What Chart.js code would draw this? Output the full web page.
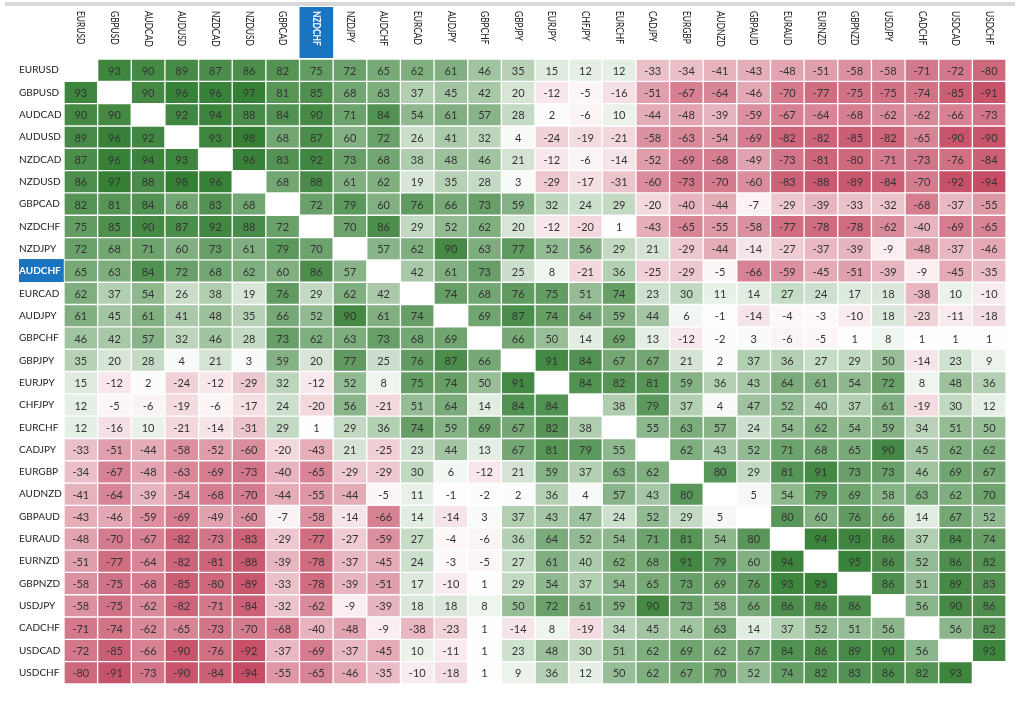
<!DOCTYPE html>
<html>
<head>
<meta charset="utf-8">
<title>Currency correlation matrix</title>
<script src="https://cdn.jsdelivr.net/npm/chart.js@4.4.1/dist/chart.umd.min.js"></script>
<style>
  html, body { margin: 0; padding: 0; background: #fff; }
  #wrap { width: 1024px; height: 712px; }
</style>
</head>
<body>
<div id="wrap"><canvas id="corrChart"></canvas></div>
<script>
// pairs, in the order of both rows and columns
const pairs = ["EURUSD", "GBPUSD", "AUDCAD", "AUDUSD", "NZDCAD", "NZDUSD", "GBPCAD", "NZDCHF",
  "NZDJPY", "AUDCHF", "EURCAD", "AUDJPY", "GBPCHF", "GBPJPY", "EURJPY", "CHFJPY", "EURCHF",
  "CADJPY", "EURGBP", "AUDNZD", "GBPAUD", "EURAUD", "EURNZD", "GBPNZD", "USDJPY", "CADCHF",
  "USDCAD", "USDCHF"];

const highlightCol = "NZDCHF";
const highlightRow = "AUDCHF";

// correlation values (%) per row, null = diagonal
const rowEURUSD = [null, 93, 90, 89, 87, 86, 82, 75, 72, 65, 62, 61, 46, 35, 15, 12, 12, -33, -34, -41, -43, -48, -51, -58, -58, -71, -72, -80];
const rowGBPUSD = [93, null, 90, 96, 96, 97, 81, 85, 68, 63, 37, 45, 42, 20, -12, -5, -16, -51, -67, -64, -46, -70, -77, -75, -75, -74, -85, -91];
const rowAUDCAD = [90, 90, null, 92, 94, 88, 84, 90, 71, 84, 54, 61, 57, 28, 2, -6, 10, -44, -48, -39, -59, -67, -64, -68, -62, -62, -66, -73];
const rowAUDUSD = [89, 96, 92, null, 93, 98, 68, 87, 60, 72, 26, 41, 32, 4, -24, -19, -21, -58, -63, -54, -69, -82, -82, -85, -82, -65, -90, -90];
const rowNZDCAD = [87, 96, 94, 93, null, 96, 83, 92, 73, 68, 38, 48, 46, 21, -12, -6, -14, -52, -69, -68, -49, -73, -81, -80, -71, -73, -76, -84];
const rowNZDUSD = [86, 97, 88, 98, 96, null, 68, 88, 61, 62, 19, 35, 28, 3, -29, -17, -31, -60, -73, -70, -60, -83, -88, -89, -84, -70, -92, -94];
const rowGBPCAD = [82, 81, 84, 68, 83, 68, null, 72, 79, 60, 76, 66, 73, 59, 32, 24, 29, -20, -40, -44, -7, -29, -39, -33, -32, -68, -37, -55];
const rowNZDCHF = [75, 85, 90, 87, 92, 88, 72, null, 70, 86, 29, 52, 62, 20, -12, -20, 1, -43, -65, -55, -58, -77, -78, -78, -62, -40, -69, -65];
const rowNZDJPY = [72, 68, 71, 60, 73, 61, 79, 70, null, 57, 62, 90, 63, 77, 52, 56, 29, 21, -29, -44, -14, -27, -37, -39, -9, -48, -37, -46];
const rowAUDCHF = [65, 63, 84, 72, 68, 62, 60, 86, 57, null, 42, 61, 73, 25, 8, -21, 36, -25, -29, -5, -66, -59, -45, -51, -39, -9, -45, -35];
const rowEURCAD = [62, 37, 54, 26, 38, 19, 76, 29, 62, 42, null, 74, 68, 76, 75, 51, 74, 23, 30, 11, 14, 27, 24, 17, 18, -38, 10, -10];
const rowAUDJPY = [61, 45, 61, 41, 48, 35, 66, 52, 90, 61, 74, null, 69, 87, 74, 64, 59, 44, 6, -1, -14, -4, -3, -10, 18, -23, -11, -18];
const rowGBPCHF = [46, 42, 57, 32, 46, 28, 73, 62, 63, 73, 68, 69, null, 66, 50, 14, 69, 13, -12, -2, 3, -6, -5, 1, 8, 1, 1, 1];
const rowGBPJPY = [35, 20, 28, 4, 21, 3, 59, 20, 77, 25, 76, 87, 66, null, 91, 84, 67, 67, 21, 2, 37, 36, 27, 29, 50, -14, 23, 9];
const rowEURJPY = [15, -12, 2, -24, -12, -29, 32, -12, 52, 8, 75, 74, 50, 91, null, 84, 82, 81, 59, 36, 43, 64, 61, 54, 72, 8, 48, 36];
const rowCHFJPY = [12, -5, -6, -19, -6, -17, 24, -20, 56, -21, 51, 64, 14, 84, 84, null, 38, 79, 37, 4, 47, 52, 40, 37, 61, -19, 30, 12];
const rowEURCHF = [12, -16, 10, -21, -14, -31, 29, 1, 29, 36, 74, 59, 69, 67, 82, 38, null, 55, 63, 57, 24, 54, 62, 54, 59, 34, 51, 50];
const rowCADJPY = [-33, -51, -44, -58, -52, -60, -20, -43, 21, -25, 23, 44, 13, 67, 81, 79, 55, null, 62, 43, 52, 71, 68, 65, 90, 45, 62, 62];
const rowEURGBP = [-34, -67, -48, -63, -69, -73, -40, -65, -29, -29, 30, 6, -12, 21, 59, 37, 63, 62, null, 80, 29, 81, 91, 73, 73, 46, 69, 67];
const rowAUDNZD = [-41, -64, -39, -54, -68, -70, -44, -55, -44, -5, 11, -1, -2, 2, 36, 4, 57, 43, 80, null, 5, 54, 79, 69, 58, 63, 62, 70];
const rowGBPAUD = [-43, -46, -59, -69, -49, -60, -7, -58, -14, -66, 14, -14, 3, 37, 43, 47, 24, 52, 29, 5, null, 80, 60, 76, 66, 14, 67, 52];
const rowEURAUD = [-48, -70, -67, -82, -73, -83, -29, -77, -27, -59, 27, -4, -6, 36, 64, 52, 54, 71, 81, 54, 80, null, 94, 93, 86, 37, 84, 74];
const rowEURNZD = [-51, -77, -64, -82, -81, -88, -39, -78, -37, -45, 24, -3, -5, 27, 61, 40, 62, 68, 91, 79, 60, 94, null, 95, 86, 52, 86, 82];
const rowGBPNZD = [-58, -75, -68, -85, -80, -89, -33, -78, -39, -51, 17, -10, 1, 29, 54, 37, 54, 65, 73, 69, 76, 93, 95, null, 86, 51, 89, 83];
const rowUSDJPY = [-58, -75, -62, -82, -71, -84, -32, -62, -9, -39, 18, 18, 8, 50, 72, 61, 59, 90, 73, 58, 66, 86, 86, 86, null, 56, 90, 86];
const rowCADCHF = [-71, -74, -62, -65, -73, -70, -68, -40, -48, -9, -38, -23, 1, -14, 8, -19, 34, 45, 46, 63, 14, 37, 52, 51, 56, null, 56, 82];
const rowUSDCAD = [-72, -85, -66, -90, -76, -92, -37, -69, -37, -45, 10, -11, 1, 23, 48, 30, 51, 62, 69, 62, 67, 84, 86, 89, 90, 56, null, 93];
const rowUSDCHF = [-80, -91, -73, -90, -84, -94, -55, -65, -46, -35, -10, -18, 1, 9, 36, 12, 50, 62, 67, 70, 52, 74, 82, 83, 86, 82, 93, null];

const matrix = [rowEURUSD, rowGBPUSD, rowAUDCAD, rowAUDUSD, rowNZDCAD, rowNZDUSD, rowGBPCAD,
  rowNZDCHF, rowNZDJPY, rowAUDCHF, rowEURCAD, rowAUDJPY, rowGBPCHF, rowGBPJPY, rowEURJPY,
  rowCHFJPY, rowEURCHF, rowCADJPY, rowEURGBP, rowAUDNZD, rowGBPAUD, rowEURAUD, rowEURNZD,
  rowGBPNZD, rowUSDJPY, rowCADCHF, rowUSDCAD, rowUSDCHF];

const labelFont = "Lato, 'Open Sans', sans-serif";
const highlightBlue = "#1a74bf";

// white -> green for positive, white -> red for negative
function cellColor(v) {
  if (v === null) return "rgba(0,0,0,0)";
  const t = Math.min(Math.abs(v), 100) / 100;
  const end = v >= 0 ? [48, 124, 48] : [194, 66, 92];
  const mix = end.map(e => Math.round(255 + (e - 255) * t));
  return `rgb(${mix[0]}, ${mix[1]}, ${mix[2]})`;
}

const datasets = matrix.map((row, r) => ({
  label: pairs[r],
  data: row.map(v => (v === null ? null : [r, r + 1])),
  backgroundColor: row.map(cellColor),
  borderColor: "rgba(255,255,255,0.45)",
  borderWidth: 1,
  borderSkipped: false,
}));

// header labels (rotated clockwise) + value text in each cell
const matrixText = {
  id: "matrixText",
  beforeDraw(chart) {
    const ctx = chart.ctx;
    ctx.save();
    ctx.fillStyle = "#d9d9d9";
    ctx.fillRect(5, 2, chart.width - 14, 4);
    ctx.restore();
  },
  afterDatasetsDraw(chart) {
    const ctx = chart.ctx;
    const xScale = chart.scales.x;
    const colW = xScale.getPixelForValue(1) - xScale.getPixelForValue(0);

    ctx.save();
    ctx.font = "11px " + labelFont;
    ctx.textAlign = "center";
    ctx.textBaseline = "middle";
    ctx.fillStyle = "#333";
    chart.data.datasets.forEach((ds, r) => {
      const meta = chart.getDatasetMeta(r);
      meta.data.forEach((bar, c) => {
        const v = matrix[r][c];
        if (v === null) return;
        ctx.fillText(String(v), bar.x, (bar.y + bar.base) / 2 + 1);
      });
    });

    pairs.forEach((name, c) => {
      const x = xScale.getPixelForValue(c);
      const isHi = name === highlightCol;
      if (isHi) {
        ctx.fillStyle = highlightBlue;
        ctx.fillRect(x - colW / 2, 7, colW, 51);
      }
      ctx.save();
      ctx.translate(x, 11);
      ctx.rotate(Math.PI / 2);
      ctx.scale(0.8, 1);
      ctx.textAlign = "left";
      ctx.textBaseline = "middle";
      ctx.font = (isHi ? "bold " : "") + "10.5px " + labelFont;
      ctx.fillStyle = isHi ? "#fff" : "#222";
      ctx.fillText(name, 0, 0);
      ctx.restore();
    });
    ctx.restore();
  }
};

new Chart(document.getElementById("corrChart"), {
  type: "bar",
  data: { labels: pairs, datasets: datasets },
  options: {
    responsive: true,
    maintainAspectRatio: false,
    animation: false,
    layout: { padding: { top: 7, left: 19, right: 18, bottom: 28 } },
    datasets: { bar: { grouped: false, barPercentage: 1, categoryPercentage: 1 } },
    plugins: {
      legend: { display: false },
      tooltip: { enabled: false },
    },
    scales: {
      x: {
        position: "top",
        grid: { display: false },
        border: { display: false },
        ticks: { display: false },
        afterFit: s => { s.height = 52; },
      },
      y: {
        min: 0,
        max: 28,
        reverse: true,
        grid: { display: false },
        border: { display: false },
        afterBuildTicks: s => { s.ticks = pairs.map((_, i) => ({ value: i + 0.5 })); },
        afterFit: s => { s.width = 45; },
        ticks: {
          autoSkip: false,
          crossAlign: "far",
          padding: 0,
          callback: v => pairs[Math.floor(v)],
          font: ctx => ({ family: labelFont, size: 10, weight: pairs[ctx.index] === highlightRow ? "bold" : "normal" }),
          color: ctx => (pairs[ctx.index] === highlightRow ? "#fff" : "#222"),
          showLabelBackdrop: true,
          backdropColor: ctx => (pairs[ctx.index] === highlightRow ? highlightBlue : "rgba(0,0,0,0)"),
          backdropPadding: { left: 4, right: 3, top: 6, bottom: 5 },
        },
      },
    },
  },
  plugins: [matrixText],
});
</script>
</body>
</html>
